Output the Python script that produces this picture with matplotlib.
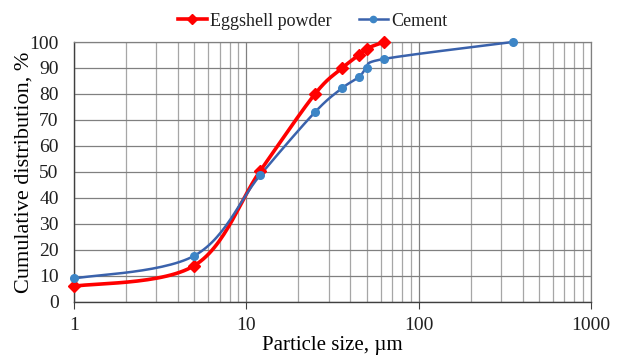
import matplotlib
matplotlib.use('Agg')
import matplotlib.pyplot as plt
from matplotlib.ticker import LogLocator, NullFormatter, FixedLocator
import numpy as np

# particle size (um) and cumulative distribution (%)
egg_size = [1, 5, 12, 25, 36, 45, 50, 63]
egg_cum = [6, 14, 50.3, 80, 90, 95, 97.5, 100]
cem_size = [1, 5, 12, 25, 36, 45, 50, 63, 350]
cem_cum = [9, 17.8, 48.7, 73, 82.3, 86.5, 90, 93.5, 100]

x_ticks = [1, 10, 100, 1000]
y_ticks = list(range(0, 101, 10))

AX_W, AX_H = 517.0, 260.0  # axes size in pixels, for smoothing


def smooth(xs, ys, n=30):
    """Excel-like smoothed line (Catmull-Rom in screen space, log x)."""
    u = np.log10(np.asarray(xs, float)) / 3.0 * AX_W
    v = np.asarray(ys, float) / 100.0 * AX_H
    pts = np.column_stack([u, v])
    pts = np.vstack([pts[0], pts, pts[-1]])
    out = []
    for i in range(1, len(pts) - 2):
        p0, p1, p2, p3 = pts[i - 1], pts[i], pts[i + 1], pts[i + 2]
        c1 = p1 + (p2 - p0) / 6.0
        c2 = p2 - (p3 - p1) / 6.0
        t = np.linspace(0, 1, n)[:, None]
        seg = ((1 - t) ** 3) * p1 + 3 * ((1 - t) ** 2) * t * c1 + 3 * (1 - t) * t ** 2 * c2 + t ** 3 * p2
        out.append(seg if i == 1 else seg[1:])
    out = np.vstack(out)
    return 10 ** (out[:, 0] / AX_W * 3.0), out[:, 1] / AX_H * 100.0


plt.rcParams['font.family'] = ['Liberation Serif', 'DejaVu Serif']
plt.rcParams['text.color'] = '#202020'

fig = plt.figure(figsize=(6.19, 3.56), dpi=100)
ax = fig.add_axes([0.1195, 0.152, 0.8355, 0.730])

red = '#FF0000'
blue = '#3A62AC'
blue_m = '#3D85C6'

sx, sy = smooth(egg_size, egg_cum)
ax.plot(sx, sy, color=red, lw=2.6, zorder=3, solid_capstyle='round', clip_on=False)
ax.plot(egg_size, egg_cum, ls='none', marker='D', ms=6.5, color=red, zorder=4, clip_on=False)
sx, sy = smooth(cem_size, cem_cum)
ax.plot(sx, sy, color=blue, lw=1.8, zorder=3, clip_on=False)
ax.plot(cem_size, cem_cum, ls='none', marker='o', ms=5.5, color=blue_m, zorder=4, clip_on=False)

# legend proxies
ax.plot([], [], color=red, lw=2.6, marker='D', ms=5.5, label='Eggshell powder')
ax.plot([], [], color=blue, lw=1.8, marker='o', ms=4.5, mfc=blue_m, mec=blue_m, label='Cement')

ax.set_xscale('log')
ax.set_xlim(1, 1000)
ax.set_ylim(0, 100)
ax.xaxis.set_major_locator(FixedLocator(x_ticks))
ax.set_xticklabels([str(t) for t in x_ticks])
ax.xaxis.set_minor_locator(LogLocator(base=10, subs=np.arange(2, 10)))
ax.xaxis.set_minor_formatter(NullFormatter())
ax.set_yticks(y_ticks)

ax.grid(True, which='major', color='#808080', lw=0.9)
ax.grid(True, which='minor', axis='x', color='#A6A6A6', lw=0.9)
ax.set_axisbelow(True)

for side in ['top', 'right']:
    ax.spines[side].set_color('#808080')
    ax.spines[side].set_linewidth(0.9)
for side in ['left', 'bottom']:
    ax.spines[side].set_color('#404040')
    ax.spines[side].set_linewidth(1.0)

ax.tick_params(axis='x', which='major', direction='out', length=5, color='#404040',
               labelsize=14, pad=6, labelcolor='#202020')
ax.tick_params(axis='x', which='minor', length=0)
ax.tick_params(axis='y', which='major', length=0, labelsize=14, pad=11, labelcolor='#202020')

ax.set_xlabel('Particle size, µm', fontsize=15, labelpad=1)
ax.set_ylabel('Cumulative distribution, %', fontsize=16, labelpad=-3)

fig.legend(loc='upper center', bbox_to_anchor=(0.505, 1.01), ncol=2, frameon=False,
           fontsize=13, handlelength=1.6, handletextpad=0.2, columnspacing=1.5)

fig.savefig('out.png', dpi=100)
